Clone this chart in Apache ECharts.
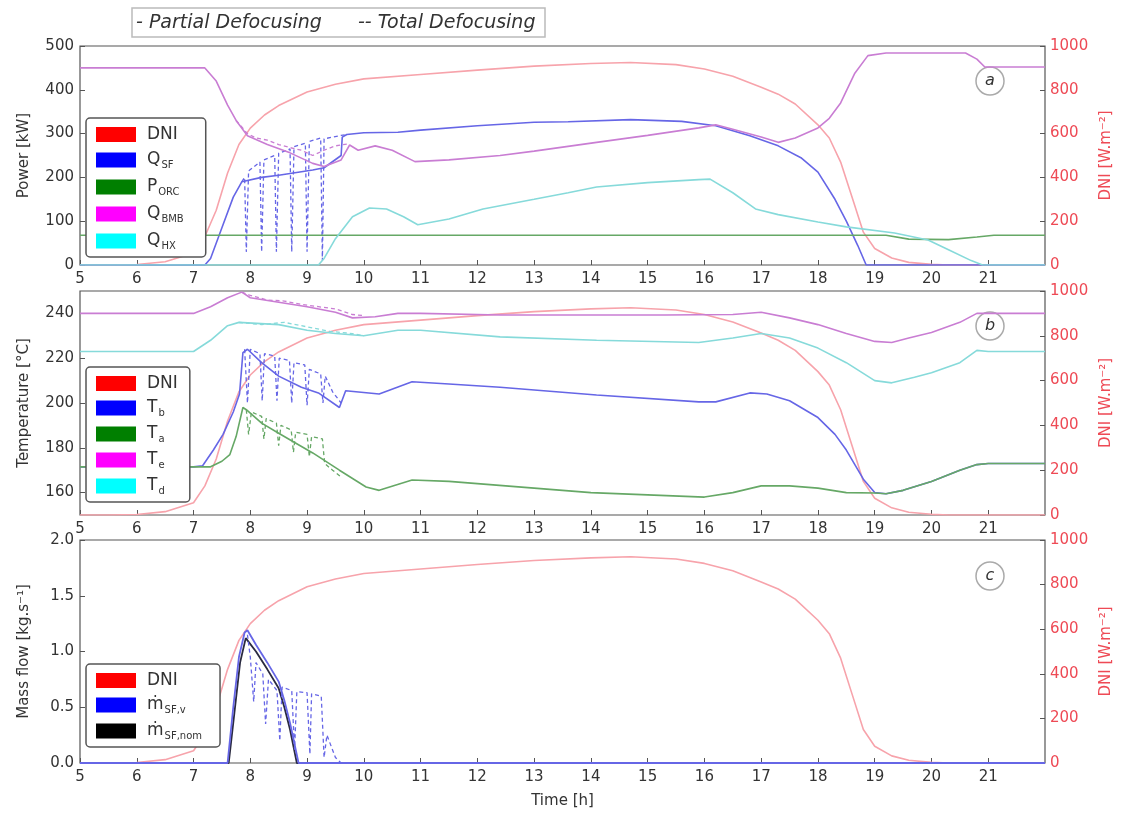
<!DOCTYPE html>
<html><head><meta charset="utf-8">
<script src="https://cdn.jsdelivr.net/npm/echarts@6/dist/echarts.min.js"></script>
<style>html,body{margin:0;padding:0;background:#fff}#c{width:1123px;height:813px}</style>
</head><body><div id="c"></div>
<script>
// ---- Data (hours, value) ----
const xTicks = [5,6,7,8,9,10,11,12,13,14,15,16,17,18,19,20,21];
const dni = [[5,0],[5.5,0],[6,2],[6.5,15],[7,55],[7.2,130],[7.4,250],[7.6,420],[7.8,550],[8,625],[8.25,685],[8.5,728],[9,790],[9.5,825],[10,850],[11,870],[12,890],[13,908],[14,920],[14.7,925],[15.5,915],[16,895],[16.5,862],[17,812],[17.3,780],[17.6,735],[18,640],[18.2,580],[18.4,470],[18.6,310],[18.8,150],[19,75],[19.3,32],[19.6,12],[20,3],[20.3,0],[22,0]];
// Panel a: power [kW]
const qSF = [[5,0],[7.2,0],[7.3,15],[7.5,85],[7.7,155],[7.85,190],[8.2,200],[8.5,205],[9.1,217],[9.3,222],[9.6,250],[9.62,292],[9.7,298],[10,302],[10.6,303],[11,308],[12,318],[13,326],[13.6,327],[14.7,332],[15.6,328],[16.2,318],[16.8,295],[17.3,272],[17.7,245],[18,212],[18.3,150],[18.5,100],[18.7,45],[18.85,0],[22,0]];
const qSFdash = [[7.85,190],[7.9,200],[7.93,30],[7.97,215],[8.17,235],[8.2,30],[8.24,240],[8.43,250],[8.46,30],[8.5,255],[8.7,265],[8.73,30],[8.77,270],[8.97,278],[9.0,30],[9.04,282],[9.24,290],[9.27,10],[9.3,288],[9.6,296],[9.7,298]];
const pORC = [[5,68],[19.2,68],[19.6,59],[20.3,58],[20.8,64],[21.1,68],[22,68]];
const qBMB = [[5,450],[7.2,450],[7.4,420],[7.6,365],[7.75,330],[7.95,295],[8.3,275],[8.7,256],[9.1,232],[9.3,225],[9.6,240],[9.75,274],[9.9,262],[10.2,272],[10.5,262],[10.9,236],[11.5,240],[12.4,250],[13,260],[14.1,280],[15,296],[15.9,313],[16.2,320],[16.5,310],[17,292],[17.3,280],[17.6,290],[18,313],[18.2,335],[18.4,370],[18.65,438],[18.88,478],[19.2,484],[20.6,484],[20.8,470],[20.94,452],[22,452]];
const qBMBdash = [[7.75,330],[7.95,300],[8.1,290],[8.3,285],[8.5,275],[8.7,268],[8.9,262],[9.1,250],[9.3,262],[9.5,272],[9.7,276]];
const qHX = [[5,0],[9.2,0],[9.3,15],[9.5,60],[9.8,110],[10.1,130],[10.4,128],[10.7,110],[10.95,92],[11.5,105],[12.1,128],[13,150],[13.6,165],[14.1,178],[15,188],[15.9,195],[16.1,196],[16.5,165],[16.9,128],[17.3,115],[18,98],[18.5,87],[19.35,73],[19.94,57],[20.3,35],[20.7,10],[20.9,0],[22,0]];
// Panel b: temperature [C]
const tE = [[5,240],[7.0,240],[7.3,243],[7.6,247],[7.85,249.5],[8.0,247],[8.5,245],[9.0,243],[9.5,240.5],[9.8,238],[10.2,238.5],[10.6,240],[11,240],[12.4,239.3],[15.3,239.3],[16.5,239.5],[17,240.5],[17.5,238],[18,235],[18.5,231],[19,227.5],[19.3,227],[19.6,229],[20,231.5],[20.5,236],[20.8,240],[21,240],[22,240]];
const tEdash = [[7.85,249.5],[8.0,248],[8.3,246],[8.6,245.5],[8.9,244],[9.2,243],[9.5,242],[9.8,239.5],[10,239]];
const tD = [[5,223],[7.0,223],[7.3,228],[7.6,234.5],[7.8,236],[8.5,235],[9.0,232.5],[9.5,231],[10,230],[10.6,232.5],[11,232.5],[12.4,229.5],[14.1,228],[15.9,227],[16.5,229],[17,231],[17.5,229],[18,224.5],[18.5,218],[19,210],[19.3,209],[19.7,211.5],[20,213.5],[20.5,218],[20.8,223.5],[21,223],[22,223]];
const tDdash = [[7.8,236],[8.2,235],[8.6,236],[9,234],[9.4,232],[9.8,231],[10,230]];
const tB = [[5,171.5],[7.0,171.5],[7.16,172],[7.35,179],[7.52,186],[7.7,196],[7.81,204],[7.87,222.5],[7.95,224],[8.2,218],[8.5,212],[8.9,207],[9.2,204.5],[9.57,198],[9.68,205.5],[10.27,204],[10.85,209.5],[11.5,208.5],[12.4,207],[14.1,203.6],[15.9,200.5],[16.2,200.5],[16.8,204.5],[17.1,204],[17.5,201],[18,193.5],[18.3,186],[18.5,179],[18.8,166],[19,160],[19.2,159.5],[19.5,161],[20,165],[20.5,170],[20.8,172.5],[21,173],[22,173]];
const tBdash = [[7.9,224],[7.95,200],[8.0,224],[8.17,222],[8.21,201],[8.25,222],[8.43,221],[8.47,201],[8.51,220],[8.69,219],[8.73,200],[8.77,218],[8.96,217],[9.0,199],[9.04,215],[9.24,213],[9.28,200],[9.32,212],[9.45,205],[9.6,200]];
const tA = [[5,171.5],[7.3,171.5],[7.5,174],[7.64,177],[7.75,185],[7.87,198],[7.93,197],[8.2,191],[8.5,186.5],[9.1,177.7],[9.57,170],[10.04,162.5],[10.27,161],[10.85,165.6],[11.5,165],[12,164],[13,162],[14,160],[15,159],[16,158],[16.5,160],[17,163],[17.5,163],[18,162],[18.5,160],[19,159.8],[19.2,159.5],[19.5,161],[20,165],[20.5,170],[20.8,172.5],[21,173],[22,173]];
const tAdash = [[7.93,197],[7.97,186],[8.02,196],[8.2,194],[8.24,184],[8.28,193],[8.46,191],[8.5,181],[8.54,190],[8.72,188],[8.76,178],[8.8,187],[9.0,186],[9.04,176],[9.08,185],[9.27,184],[9.31,173],[9.45,170],[9.6,167]];
// Panel c: mass flow [kg/s]
const mV = [[5,0],[7.6,0],[7.7,0.5],[7.8,0.95],[7.9,1.17],[7.95,1.19],[8.1,1.06],[8.3,0.9],[8.5,0.73],[8.6,0.56],[8.7,0.36],[8.85,0],[22,0]];
const mNom = [[5,0],[7.62,0],[7.72,0.45],[7.82,0.9],[7.92,1.12],[8.1,1.0],[8.3,0.84],[8.5,0.67],[8.6,0.5],[8.7,0.3],[8.82,0],[22,0]];
const mVdash = [[7.95,1.15],[8.0,0.95],[8.06,0.55],[8.1,0.9],[8.22,0.8],[8.27,0.35],[8.32,0.75],[8.47,0.65],[8.52,0.2],[8.56,0.68],[8.73,0.65],[8.78,0.12],[8.82,0.64],[9.0,0.63],[9.05,0.08],[9.08,0.62],[9.25,0.6],[9.3,0.05],[9.35,0.25],[9.5,0.05],[9.6,0],[9.7,0]];
const tempTicks = [160,180,200,220,240];

// ---- Styles ----
const FONT = 'DejaVu Sans';
const C = {dni:'#f7a3ab', blue:'#6666e6', green:'#66a866', mag:'#c97dd3', cyan:'#86dada', black:'#2a2a40'};
const P = {dni:'#ff0000', blue:'#0000ff', green:'#007f00', mag:'#ff00ff', cyan:'#00ffff', black:'#000000'};

const chart = echarts.init(document.getElementById('c'), null, {renderer:'canvas'});
const grids = [
  {left:80, right:78, top:46, height:219},
  {left:80, right:78, top:291, height:224},
  {left:80, right:78, top:540, height:223}
].map(g => Object.assign(g, {show:true, borderColor:'#555', borderWidth:1.2, backgroundColor:'transparent'}));

const xAxes = [0,1,2].map(i => ({
  type:'value', gridIndex:i, min:5, max:22, interval:1,
  axisLine:{show:false}, splitLine:{show:false},
  axisTick:{inside:true, length:5, lineStyle:{color:'#555'}, customValues:xTicks},
  axisLabel:{fontFamily:FONT, fontSize:15, color:'#333', margin:7, customValues:xTicks},
  name: i===2 ? 'Time [h]' : '', nameLocation:'middle', nameGap:31,
  nameTextStyle:{fontFamily:FONT, fontSize:15, color:'#333'}
}));

function leftAxis(i, min, max, interval, name, fmt, custom){
  const a = {type:'value', gridIndex:i, position:'left', min, max, interval,
    axisLine:{show:false}, splitLine:{show:false},
    axisTick:{inside:true, length:5, lineStyle:{color:'#555'}},
    axisLabel:{fontFamily:FONT, fontSize:15, color:'#333', margin:6, formatter:fmt || (v => String(v))},
    name, nameLocation:'middle', nameGap:48, nameRotate:90,
    nameTextStyle:{fontFamily:FONT, fontSize:15, color:'#333'}};
  if (custom){ a.axisTick.customValues = custom; a.axisLabel.customValues = custom; }
  return a;
}
function rightAxis(i){
  return {type:'value', gridIndex:i, position:'right', min:0, max:1000, interval:200,
    axisLine:{show:false}, splitLine:{show:false},
    axisTick:{inside:true, length:5, lineStyle:{color:'#555'}},
    axisLabel:{fontFamily:FONT, fontSize:15, color:'#ee4a55', margin:5, formatter: v => String(v)},
    name:'DNI [W.m⁻²]', nameLocation:'middle', nameGap:50, nameRotate:90,
    nameTextStyle:{fontFamily:FONT, fontSize:15, color:'#ee4a55'}};
}
const yAxes = [
  leftAxis(0, 0, 500, 100, 'Power [kW]'),
  rightAxis(0),
  leftAxis(1, 150, 250, 10, 'Temperature [°C]', null, tempTicks),
  rightAxis(1),
  leftAxis(2, 0, 2.0, 0.5, 'Mass flow [kg.s⁻¹]', v => v.toFixed(1)),
  rightAxis(2)
];

function line(name, data, gi, yi, color, dashed, w){
  return {type:'line', name, data, xAxisIndex:gi, yAxisIndex:yi, showSymbol:false, symbol:'none',
    animation:false, silent:true,
    lineStyle:{color, width:w||1.6, type: dashed ? [4,3] : 'solid'}, itemStyle:{color}};
}
const series = [
  line('DNI_a', dni, 0, 1, C.dni),
  line('QSF', qSF, 0, 0, C.blue),
  line('QSFd', qSFdash, 0, 0, C.blue, true, 1.3),
  line('PORC', pORC, 0, 0, C.green),
  line('QBMB', qBMB, 0, 0, C.mag),
  line('QBMBd', qBMBdash, 0, 0, C.mag, true, 1.3),
  line('QHX', qHX, 0, 0, C.cyan),

  line('DNI_b', dni, 1, 3, C.dni),
  line('Tb', tB, 1, 2, C.blue),
  line('Tbd', tBdash, 1, 2, C.blue, true, 1.3),
  line('Ta', tA, 1, 2, C.green),
  line('Tad', tAdash, 1, 2, C.green, true, 1.3),
  line('Te', tE, 1, 2, C.mag),
  line('Ted', tEdash, 1, 2, C.mag, true, 1.3),
  line('Td', tD, 1, 2, C.cyan),
  line('Tdd', tDdash, 1, 2, C.cyan, true, 1.3),

  line('DNI_c', dni, 2, 5, C.dni),
  line('mnom', mNom, 2, 4, C.black, false, 1.8),
  line('mv', mV, 2, 4, C.blue, false, 1.8),
  line('mvd', mVdash, 2, 4, C.blue, true, 1.3)
];

const labelMap = {DNI_a:'{m|DNI}', DNI_b:'{m|DNI}', DNI_c:'{m|DNI}',
  QSF:'{m|Q}{s|SF}', PORC:'{m|P}{s|ORC}', QBMB:'{m|Q}{s|BMB}', QHX:'{m|Q}{s|HX}',
  Tb:'{m|T}{s|b}', Ta:'{m|T}{s|a}', Te:'{m|T}{s|e}', Td:'{m|T}{s|d}',
  mv:'{m|ṁ}{s|SF,v}', mnom:'{m|ṁ}{s|SF,nom}'};
function legend(left, top, items, gap, padR){
  return {orient:'vertical', left, top, icon:'rect', itemWidth:40, itemHeight:15, itemGap:gap,
    backgroundColor:'#fff', borderColor:'#555', borderWidth:1.5, borderRadius:4, padding:[8,padR,6,10],
    selectedMode:false,
    data: items.map(([n,c]) => ({name:n, itemStyle:{color:c, borderWidth:0}})),
    formatter: n => labelMap[n],
    textStyle:{fontFamily:FONT, color:'#333', padding:[0,0,0,6],
      rich:{m:{fontFamily:FONT, fontSize:17, color:'#333', lineHeight:16},
            s:{fontFamily:FONT, fontSize:10, color:'#333', lineHeight:16, padding:[10,0,0,1]}}}};
}
const legends = [
  legend(86, 118, [['DNI_a',P.dni],['QSF',P.blue],['PORC',P.green],['QBMB',P.mag],['QHX',P.cyan]], 7, 22),
  legend(86, 367, [['DNI_b',P.dni],['Tb',P.blue],['Ta',P.green],['Te',P.mag],['Td',P.cyan]], 6, 12),
  legend(86, 664, [['DNI_c',P.dni],['mv',P.blue],['mnom',P.black]], 6, 18)
];

function circ(x, y, t){
  return {type:'group', x, y, children:[
    {type:'circle', shape:{cx:0, cy:0, r:14}, style:{fill:'#fff', stroke:'#aaa', lineWidth:1.5}},
    {type:'text', style:{text:t, x:0, y:0, fontFamily:FONT, fontStyle:'italic', fontSize:16, fill:'#333', textAlign:'center', textVerticalAlign:'middle'}}
  ]};
}
const graphic = [
  {type:'rect', shape:{x:132, y:8, width:413, height:29}, style:{fill:'#fff', stroke:'#bbb', lineWidth:1.5}},
  {type:'text', style:{text:'- Partial Defocusing', x:136, y:23, fontFamily:FONT, fontStyle:'italic', fontSize:19, fill:'#333', textVerticalAlign:'middle'}},
  {type:'text', style:{text:'-- Total Defocusing', x:358, y:23, fontFamily:FONT, fontStyle:'italic', fontSize:19, fill:'#333', textVerticalAlign:'middle'}},
  circ(990, 81, 'a'), circ(990, 326, 'b'), circ(990, 576, 'c')
];

chart.setOption({animation:false, backgroundColor:'#fff', grid:grids, xAxis:xAxes, yAxis:yAxes,
  series, legend:legends, graphic});
</script></body></html>
